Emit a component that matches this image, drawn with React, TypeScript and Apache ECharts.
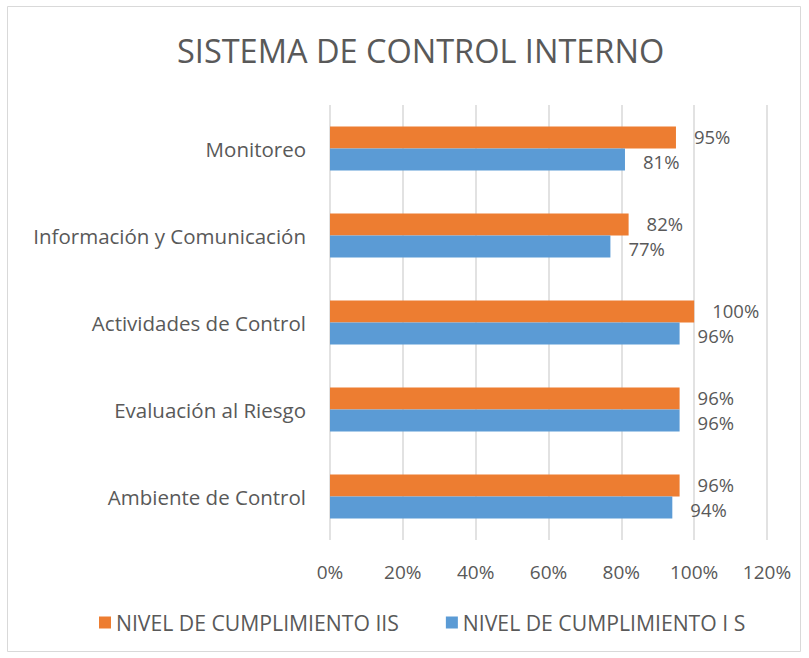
import React, { useEffect, useRef } from "react";
import * as echarts from "echarts";

const categories = [
  "Ambiente de Control",
  "Evaluación al Riesgo",
  "Actividades de Control",
  "Información y Comunicación",
  "Monitoreo",
];
const serieIS = [94, 96, 96, 77, 81];
const serieIIS = [96, 96, 100, 82, 95];
const nameIS = "NIVEL DE CUMPLIMIENTO I S";
const nameIIS = "NIVEL DE CUMPLIMIENTO IIS";
const title = "SISTEMA DE CONTROL INTERNO";

const FONT = "'Open Sans', sans-serif";
const GREY = "#595959";

export default function App() {
  const ref = useRef<HTMLDivElement>(null);
  useEffect(() => {
    if (!ref.current) return;
    const chart = echarts.init(ref.current, null, { renderer: "svg" });
    const makeLabel = (dy: number) => ({
      show: true,
      position: "right",
      distance: 18,
      offset: [0, dy],
      color: GREY,
      fontFamily: FONT,
      fontSize: 18.5,
      lineHeight: 19,
      formatter: (p: any) => p.value + "%",
    });
    chart.setOption({
      animation: false,
      backgroundColor: "#ffffff",
      title: {
        text: title,
        left: 172,
        top: 29,
        textStyle: { color: GREY, fontFamily: FONT, fontSize: 32.5, fontWeight: "normal" },
      },
      graphic: [
        {
          type: "rect",
          shape: { x: 7.5, y: 6.5, width: 793, height: 645 },
          style: { fill: "none", stroke: "#d9d9d9", lineWidth: 1 },
          silent: true,
        },
      ],
      legend: {
        data: [nameIIS, nameIS],
        bottom: 20,
        left: 94,
        itemGap: 47,
        itemWidth: 12,
        itemHeight: 12,
        icon: "rect",
        textStyle: { color: GREY, fontFamily: FONT, fontSize: 21.2 },
      },
      grid: { left: 330, right: 42, top: 105, bottom: 118, containLabel: false },
      xAxis: {
        type: "value",
        min: 0,
        max: 120,
        interval: 20,
        axisLabel: {
          formatter: "{value}%",
          color: GREY,
          fontFamily: FONT,
          fontSize: 19,
          margin: 22,
        },
        axisLine: { show: false },
        axisTick: { show: false },
        splitLine: { show: true, lineStyle: { color: "#d9d9d9", width: 1.5 } },
      },
      yAxis: {
        type: "category",
        data: categories,
        axisLabel: { color: GREY, fontFamily: FONT, fontSize: 20.5, margin: 24 },
        axisLine: { show: false },
        axisTick: { show: false },
      },
      series: [
        {
          name: nameIIS,
          type: "bar",
          data: serieIIS,
          barWidth: 22,
          barGap: "0%",
          itemStyle: { color: "#ed7d31" },
          label: makeLabel(-1.5),
        },
        {
          name: nameIS,
          type: "bar",
          data: serieIS,
          barWidth: 22,
          barGap: "0%",
          itemStyle: { color: "#5b9bd5" },
          label: makeLabel(1.5),
        },
      ],
    });
    return () => chart.dispose();
  }, []);
  return (
    <div
      ref={ref}
      style={{ position: "absolute", left: 0, top: 0, width: 809, height: 658 }}
    />
  );
}
